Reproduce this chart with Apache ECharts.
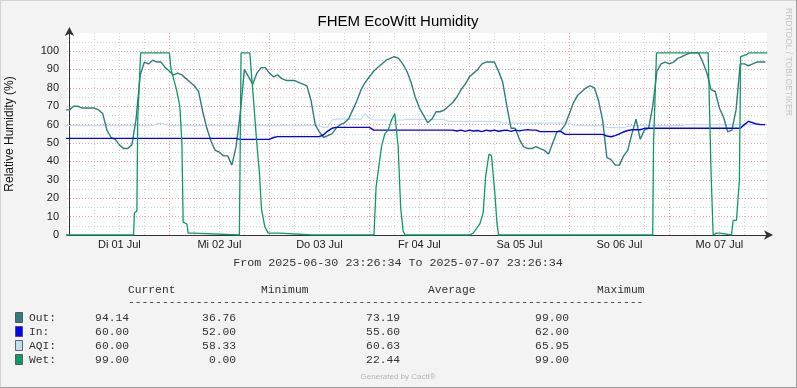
<!DOCTYPE html>
<html><head><meta charset="utf-8">
<script src="https://cdn.jsdelivr.net/npm/echarts@6/dist/echarts.min.js"></script>
<style>html,body{margin:0;padding:0;background:#F3F3F3}#c{width:797px;height:388px}</style>
</head><body><div id="c"></div>
<script>
// hours relative to 2025-07-01 00:00 (local); window 2025-06-30 23:26:34 .. 2025-07-07 23:26:34
const xMin = -0.5761;
const xMax = 167.4239;
const dayLabels = ["Di 01 Jul","Mi 02 Jul","Do 03 Jul","Fr 04 Jul","Sa 05 Jul","So 06 Jul","Mo 07 Jul"];
const dayLabelHours = [12, 36, 60, 84, 108, 132, 156];
const gridHours = [0,6,12,18,24,30,36,42,48,54,60,66,72,78,84,90,96,102,108,114,120,126,132,138,144,150,156,162];
const yTicks = [0,5,10,15,20,25,30,35,40,45,50,55,60,65,70,75,80,85,90,95,100,105];
const yLabels = [0,10,20,30,40,50,60,70,80,90,100];

// hourly samples, first sample at hour -1
const sampleStart = -1;
const outValues = [68,
68,70,70,69,69,69,69,68,66,57,53,52,49,47,47,49,63,87,94,93,95,94,94,91,
89,87,88,87,85,83,81,78,67,58,51,46,45,43,43,38,48,66,90,86,82,88,91,91,
88,86,87,85,84,84,84,83,82,81,73,60,56,53,54,55,58,60,61,63,68,73,79,83,
86,89,91,93,95,96,97,96,93,89,83,75,69,65,61,63,67,67,68,70,72,75,79,82,
86,88,90,93,94,94,94,89,83,70,58,58,52,48,47,47,48,47,46,44,50,56,57,60,
66,72,76,78,80,81,80,73,62,42,41,38,38,43,46,55,63,52,57,58,70,89,93,94,
93,94,96,97,98,99,99,99,94,88,79,78,69,64,56,57,68,93,93,92,93,94,94,94];
const inValues = [
52.5,52.5,52.5,52.5,52.5,52.5,52.5,52.5,52.5,52.5,52.5,52.5,52.5,52.5,52.5,52.5,52.5,52.5,52.5,52.5,52.5,
52.5,52.5,52.5,52.5,52.5,52.5,52.5,52.5,52.5,52.5,52.5,52.5,52.5,52.5,52.5,52.5,52.5,52.5,52.5,52.5,52.5,
52,52,52,52,52,52,52,52,
53,
53.5,53.5,53.5,53.5,53.5,53.5,53.5,53.5,53.5,53.5,53.5,
54.5,56.5,58,
58.5,58.5,58.5,58.5,58.5,58.5,58.5,58.5,58.5,
57,57,57,57,57,57,57,57,57,57,57,57,57,57,57,57,57,57,57,57,
56.5,57,56.3,57,56.5,56.8,56.2,57,56.5,57,56.4,56.8,57,56.3,57,56.6,57,57.3,57,57,
56.2,56.2,56.2,56.2,56.2,56.2,
54.7,54.7,54.7,54.7,54.7,54.7,54.7,54.7,54.7,54.7,
53.8,53.4,54,55,56,56.8,57.2,57.2,57.2,
58,58,58,58,58,58,58,58,58,58,58,58,58,58,58,58,58,58,58,58,58,58,58,58,
60,61.8,61,60.3,60,60];
const aqiValues = [
59.5,59.5,59.5,59.5,59.5,59.5,59.5,59.5,59.5,59.5,59.5,59.5,59.5,59.5,59.5,59.5,59.5,59.5,59.5,59.5,59.5,59.5,
60.5,60.8,60,
59.5,59.5,59.5,59.5,59.5,59.5,59.5,59.5,59.5,59.5,59.5,59.5,59.5,59.5,59.5,59.5,59.5,59.5,59.5,
60,
59.5,59.5,59.5,59.5,59.5,59.5,59.5,59.5,59.5,59.5,59.5,59.5,59.5,59.5,59.5,59.5,59.5,
58.5,58.5,62.5,
63,63,63,63,63,63,63,
66,63.5,
62.5,62.5,62.5,62.5,62.5,62.5,62.5,62.5,
62.8,62.8,62.8,62.8,62.8,62.8,62.8,62.8,62.8,62.8,
61.8,61.8,61.8,61.8,61.8,61.8,61.8,61.8,61.8,61.8,61.8,61.8,61.8,
60.8,60.8,60.8,60.8,60.8,60.8,60.8,60.8,60.8,60.8,60.8,60.8,60.8,60.8,60.8,60.8,60.8,
59.5,59.5,59.5,59.5,59.5,59.5,59.5,59.5,
58.4,58.4,58.4,58.4,58.4,
59,
59.5,59.5,59.5,59.5,59.5,59.5,59.5,59.5,59.5,59.5,59.5,59.5,59.5,
60,60,60,60,60,60,60,60,60,60,60,60,60,60,60,60,60,60,60,60];
// wet sensor: breakpoints (hour, value)
const wetHours = [-1,15.4,15.6,16.2,16.4,16.8,17.1,24.0,24.4,25.7,26.5,27.0,27.3,28.2,28.5,29.7,30,40.8,41.2,43.3,44.0,44.9,45.6,46.1,46.9,47.7,50.5,50.8,58.3,58.5,58.7,73.1,73.6,74.9,75.7,76.5,77.3,78.1,78.9,79.5,80.1,80.6,96.1,96.9,98.5,99.3,99.9,100.7,101.3,102.1,102.6,103,140.0,140.2,140.9,153.3,154,154.5,155.3,156.1,156.4,158.9,159.3,160.1,160.8,161.1,162.5,163,167.5];
const wetValues = [0,0,12,13,63,63,99,99,90,79,70,50,7,6,1,1,0,0,99,99,79,52,34,14,4.5,1,1,0,0,0.6,0,0,26,48,55,57,62.5,66,48,15,2,0,0,1,6,12,32,44,43,23,7,0,0,50,99,99,34,0,1,1,0,0,8,8,30,97,98,99,99];

const legendRows = [
  {name: "Out:", color: "#2E7F7A", current: "94.14", minimum: "36.76", average: "73.19", maximum: "99.00"},
  {name: "In:",  color: "#0000FF", current: "60.00", minimum: "52.00", average: "55.60", maximum: "62.00"},
  {name: "AQI:", color: "#C2DDF8", current: "60.00", minimum: "58.33", average: "60.63", maximum: "65.95"},
  {name: "Wet:", color: "#0C9A66", current: "99.00", minimum: "0.00",  average: "22.44", maximum: "99.00"}
];

function pairs(vals){ return vals.map((v,i)=>[sampleStart+i, v]); }
const wetData = wetHours.map((h,i)=>[h, wetValues[i]]);

const chart = echarts.init(document.getElementById('c'), null, {renderer:'canvas'});
const mono = '"Liberation Mono", "DejaVu Sans Mono", monospace';
const sans = '"Liberation Sans", "DejaVu Sans", sans-serif';
const gfx = [];
// frame
gfx.push({type:'line', shape:{x1:0.5,y1:0,x2:0.5,y2:388}, style:{stroke:'#D4D4D4',lineWidth:1}, silent:true});
gfx.push({type:'line', shape:{x1:0,y1:0.5,x2:797,y2:0.5}, style:{stroke:'#D4D4D4',lineWidth:1}, silent:true});
gfx.push({type:'line', shape:{x1:796.5,y1:0,x2:796.5,y2:388}, style:{stroke:'#9C9C9C',lineWidth:1}, silent:true});
gfx.push({type:'line', shape:{x1:0,y1:387.5,x2:797,y2:387.5}, style:{stroke:'#9C9C9C',lineWidth:1}, silent:true});
// title
gfx.push({type:'text', x:398, y:22, style:{text:'FHEM EcoWitt Humidity', font:'15px '+sans, fill:'#000', align:'center', verticalAlign:'middle'}});
// y axis title
gfx.push({type:'text', x:10, y:134, rotation:Math.PI/2, style:{text:'Relative Humidity (%)', font:'12px '+sans, fill:'#111', align:'center', verticalAlign:'middle'}});
// watermark
gfx.push({type:'text', x:788, y:62, rotation:-Math.PI/2, style:{text:'RRDTOOL / TOBI OETIKER', font:'8.5px '+sans, fill:'#C4C4C4', align:'center', verticalAlign:'middle'}});
// from line
gfx.push({type:'text', x:398, y:263, style:{text:'From 2025-06-30 23:26:34 To 2025-07-07 23:26:34', font:'11.7px '+mono, fill:'#333', align:'center', verticalAlign:'middle'}});
// legend header
const colX = {current:129, minimum:236, average:400, maximum:569};
const headers = [["Current",128],["Minimum",261],["Average",428],["Maximum",597]];
headers.forEach(h=>gfx.push({type:'text', x:h[1], y:290, style:{text:h[0], font:'11.3px '+mono, fill:'#333', align:'left', verticalAlign:'middle'}}));
gfx.push({type:'text', x:128, y:302, style:{text:'-'.repeat(76), font:'11.3px '+mono, fill:'#333', align:'left', verticalAlign:'middle'}});
legendRows.forEach((r,i)=>{
  const y = 318 + i*14;
  gfx.push({type:'rect', shape:{x:15.5,y:y-5.5,width:7,height:10}, style:{fill:r.color, stroke:'#444', lineWidth:0.8}});
  gfx.push({type:'text', x:29, y:y, style:{text:r.name, font:'11.3px '+mono, fill:'#333', align:'left', verticalAlign:'middle'}});
  ['current','minimum','average','maximum'].forEach(k=>{
    gfx.push({type:'text', x:colX[k], y:y, style:{text:r[k], font:'11.3px '+mono, fill:'#333', align:'right', verticalAlign:'middle'}});
  });
});
gfx.push({type:'text', x:398, y:377, style:{text:'Generated by Cacti®', font:'8px '+sans, fill:'#B4B4B4', align:'center', verticalAlign:'middle'}});

chart.setOption({
  backgroundColor:'#F3F3F3',
  animation:false,
  grid:{left:67, right:30, top:33, bottom:153, show:true, backgroundColor:'#FFFFFF', borderWidth:0},
  xAxis:{
    type:'value', min:xMin, max:xMax,
    axisLine:{show:true, onZero:false, symbol:['none','arrow'], symbolSize:[7,9], symbolOffset:[0,6], lineStyle:{color:'#333', width:1}},
    axisTick:{show:false, customValues:gridHours},
    axisLabel:{customValues:dayLabelHours, formatter:(v)=>dayLabels[dayLabelHours.indexOf(Math.round(v))] || '', color:'#222', fontSize:11, fontFamily:sans, margin:4},
    splitLine:{show:true, lineStyle:{color:['#EBA3A3','#D6D6D6','#D6D6D6','#D6D6D6'], type:[1,2], width:1}}
  },
  yAxis:{
    type:'value', min:0, max:109.8,
    axisLine:{show:true, symbol:['none','arrow'], symbolSize:[7,9], symbolOffset:[0,6], lineStyle:{color:'#333', width:1}},
    axisTick:{show:false, customValues:yTicks},
    axisLabel:{customValues:yLabels, color:'#222', fontSize:11, fontFamily:sans, margin:8},
    splitLine:{show:true, lineStyle:{color:['#EBA3A3','#D6D6D6'], type:[1,2], width:1}}
  },
  graphic:gfx,
  series:[
    {name:'Out', type:'line', data:pairs(outValues), showSymbol:false, lineStyle:{color:legendRows[0].color, width:1.4}, z:3},
    {name:'In', type:'line', data:pairs(inValues), showSymbol:false, lineStyle:{color:legendRows[1].color, width:1.4}, z:4},
    {name:'AQI', type:'line', data:pairs(aqiValues), showSymbol:false, lineStyle:{color:'#C2DDF8', width:1.2}, z:2},
    {name:'Wet', type:'line', data:wetData, showSymbol:false, lineStyle:{color:legendRows[3].color, width:1.3}, z:5}
  ]
});
</script></body></html>
